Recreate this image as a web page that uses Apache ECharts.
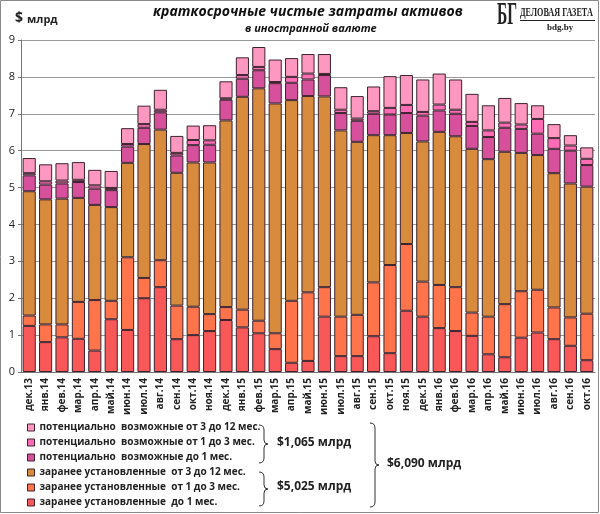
<!DOCTYPE html>
<html>
<head>
<meta charset="utf-8">
<script src="https://cdn.jsdelivr.net/npm/echarts@6/dist/echarts.min.js"></script>
<style>
html,body{margin:0;padding:0;background:#fff;}
#chart{width:600px;height:514px;}
</style>
</head>
<body>
<div id="chart"></div>
<script>
// месяцы
var months = ['дек.13','янв.14','фев.14','мар.14','апр.14','май.14','июн.14','июл.14','авг.14','сен.14','окт.14','ноя.14',
  'дек.14','янв.15','фев.15','мар.15','апр.15','май.15','июн.15','июл.15','авг.15','сен.15','окт.15','ноя.15',
  'дек.15','янв.16','фев.16','мар.16','апр.16','май.16','июн.16','июл.16','авг.16','сен.16','окт.16'];

// заранее установленные
var fixedTo1 = [1.25,0.81,0.94,0.90,0.58,1.43,1.14,2.00,2.30,0.89,1.00,1.11,1.41,1.21,1.05,0.62,0.25,0.30,1.50,0.43,0.43,0.97,0.51,1.66,1.50,1.19,1.11,0.98,0.48,0.40,0.93,1.07,0.89,0.71,0.32];
var fixed1to3 = [0.28,0.48,0.35,1.00,1.37,0.50,1.97,0.55,0.73,0.91,0.77,0.46,0.35,0.48,0.34,0.43,1.68,1.86,0.80,1.07,1.12,1.46,2.39,1.81,0.95,1.17,1.19,0.63,1.02,1.44,1.26,1.16,0.86,0.77,1.26];
var fixed3to12 = [3.37,3.39,3.41,2.82,2.58,2.54,2.56,3.63,3.54,3.60,3.91,4.11,5.06,5.77,6.30,6.23,5.44,5.32,5.17,5.05,4.69,3.99,3.52,3.01,3.80,4.15,4.09,4.44,4.27,4.13,3.75,3.65,3.64,3.63,3.445];
// потенциально возможные
var potTo1 = [0.43,0.40,0.41,0.43,0.44,0.46,0.44,0.44,0.47,0.47,0.47,0.48,0.56,0.49,0.49,0.55,0.47,0.45,0.58,0.47,0.57,0.58,0.56,0.54,0.70,0.58,0.61,0.62,0.60,0.65,0.65,0.58,0.66,0.89,0.585];
var pot1to3 = [0.06,0.09,0.08,0.06,0.09,0.06,0.07,0.10,0.07,0.07,0.14,0.12,0.04,0.10,0.09,0.03,0.16,0.16,0.03,0.09,0.06,0.07,0.18,0.22,0.10,0.16,0.11,0.11,0.18,0.14,0.12,0.40,0.29,0.14,0.17];
var pot3to12 = [0.41,0.46,0.47,0.48,0.42,0.46,0.43,0.50,0.54,0.46,0.39,0.41,0.46,0.48,0.54,0.61,0.51,0.53,0.54,0.61,0.61,0.67,0.86,0.81,0.88,0.84,0.82,0.76,0.68,0.67,0.58,0.37,0.38,0.28,0.31];

var names = ['заранее установленные  до 1 мес.','заранее установленные  от 1 до 3 мес.','заранее установленные  от 3 до 12 мес.',
  'потенциально  возможные до 1 мес.','потенциально  возможные от 1 до 3 мес.','потенциально  возможные от 3 до 12 мес.'];
var colors = ['#F95858','#FF744B','#D88B3C','#D6509C','#FF6CB6','#FF98C0'];
var values = [fixedTo1, fixed1to3, fixed3to12, potTo1, pot1to3, pot3to12];

var font = '"Open Sans", "Noto Sans", sans-serif';
var serif = '"Liberation Serif", "DejaVu Serif", serif';

// фигурная скобка из кривых и линий
function brace(x, y1, y2){
  var m = (y1 + y2) / 2, st = {fill: 'none', stroke: '#333', lineWidth: 1}, X = x + 5;
  return [
    {type: 'bezierCurve', shape: {x1: x, y1: y1, cpx1: X, cpy1: y1, x2: X, y2: y1 + 5}, style: st},
    {type: 'line', shape: {x1: X, y1: y1 + 5, x2: X, y2: m - 4}, style: st},
    {type: 'bezierCurve', shape: {x1: X, y1: m - 4, cpx1: X, cpy1: m, x2: X + 4, y2: m}, style: st},
    {type: 'bezierCurve', shape: {x1: X + 4, y1: m, cpx1: X, cpy1: m, x2: X, y2: m + 4}, style: st},
    {type: 'line', shape: {x1: X, y1: m + 4, x2: X, y2: y2 - 5}, style: st},
    {type: 'bezierCurve', shape: {x1: X, y1: y2 - 5, cpx1: X, cpy1: y2, x2: x, y2: y2}, style: st}
  ];
}

var series = values.map(function(v, i){
  return {
    name: names[i],
    type: 'bar',
    stack: 'all',
    barCategoryGap: '20%',
    data: v,
    itemStyle: {color: colors[i], borderColor: '#3d2330', borderWidth: 1}
  };
});

var graphics = [
  {type: 'rect', shape: {x: 0.5, y: 0.5, width: 598, height: 512}, style: {fill: 'none', stroke: '#8a8a8a', lineWidth: 1}, silent: true},
  {type: 'text', x: 15, y: 11, style: {text: '$', font: 'bold 14px ' + font, fill: '#222'}},
  {type: 'text', x: 27, y: 14, style: {text: 'млрд', font: 'bold 11px ' + font, fill: '#222'}},
  {type: 'text', x: 153, y: 5, style: {text: 'краткосрочные чистые затраты активов', font: 'italic bold 14px ' + font, fill: '#111'}},
  {type: 'text', x: 245, y: 23, style: {text: 'в иностранной валюте', font: 'italic bold 11px ' + font, fill: '#111'}},
  {type: 'text', x: 497, y: 0, scaleX: 0.5, style: {text: 'БГ', font: 'bold 31px ' + serif, fill: '#222'}},
  {type: 'text', x: 520, y: 7, scaleX: 0.68, style: {text: 'ДЕЛОВАЯ ГАЗЕТА', font: 'bold 12px ' + serif, fill: '#222'}},
  {type: 'line', shape: {x1: 520, y1: 20.5, x2: 595, y2: 20.5}, style: {stroke: '#222', lineWidth: 1}},
  {type: 'text', x: 547, y: 23, style: {text: 'bdg.by', font: 'bold 9px ' + serif, fill: '#222'}},
  {type: 'text', x: 277, y: 437, style: {text: '$1,065 млрд', font: 'bold 12px ' + font, fill: '#222'}},
  {type: 'text', x: 277, y: 481, style: {text: '$5,025 млрд', font: 'bold 12px ' + font, fill: '#222'}},
  {type: 'text', x: 387, y: 458, style: {text: '$6,090 млрд', font: 'bold 12px ' + font, fill: '#222'}}
];
graphics = graphics.concat(brace(259, 425, 463), brace(259, 472, 506), brace(370, 423, 507));

var option = {
  animation: false,
  textStyle: {fontFamily: font},
  grid: {left: 21, right: 5, top: 40, bottom: 142},
  legend: {
    orient: 'vertical',
    left: 27, top: 421,
    padding: 0,
    data: names.slice().reverse(),
    itemWidth: 7, itemHeight: 7, itemGap: 2,
    icon: 'rect',
    itemStyle: {borderColor: '#3d2330', borderWidth: 1},
    textStyle: {fontSize: 10, lineHeight: 13, fontWeight: 'bold', color: '#222', fontFamily: font}
  },
  xAxis: {
    type: 'category',
    data: months,
    axisTick: {show: false},
    axisLine: {lineStyle: {color: '#777'}},
    axisLabel: {interval: 0, rotate: 90, fontSize: 10, fontWeight: 'bold', color: '#222', margin: 6}
  },
  yAxis: {
    type: 'value',
    min: 0, max: 9, interval: 1,
    axisLine: {show: true, lineStyle: {color: '#777'}},
    axisTick: {show: true, length: 3, lineStyle: {color: '#777'}},
    axisLabel: {fontSize: 11, color: '#222', margin: 6},
    splitLine: {lineStyle: {color: '#9a9a9a'}}
  },
  graphic: graphics,
  series: series
};

var chart = echarts.init(document.getElementById('chart'));
chart.setOption(option);
</script>
</body>
</html>
